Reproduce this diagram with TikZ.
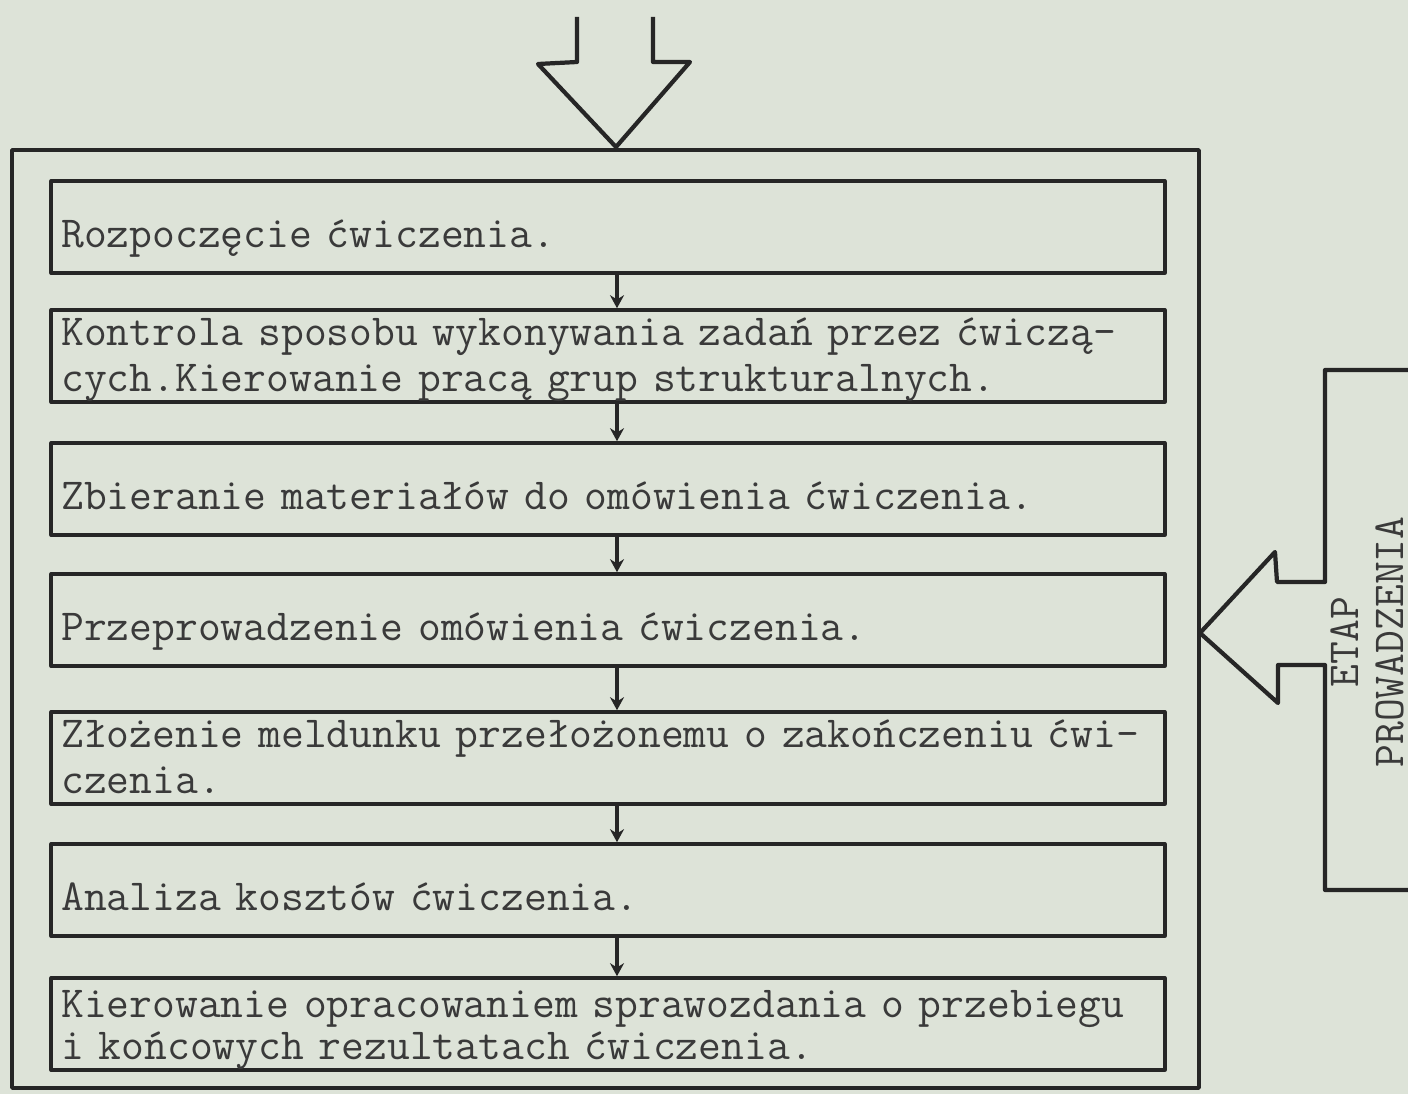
\documentclass[tikz,border=0pt]{standalone}
\usepackage{fontspec}
\usetikzlibrary{arrows.meta,calc}
\definecolor{Paper}{HTML}{DDE3D8}
\definecolor{Ink}{HTML}{262626}
\definecolor{Type}{HTML}{3A3A3A}

\begin{document}
\begin{tikzpicture}[x=0.01cm,y=-0.01cm,>=Stealth,line join=round,
    font=\ttfamily\fontsize{12.6}{12.8}\selectfont,
    stepbox/.style={draw=Ink,line width=1pt,text=Type,minimum width=11.13cm,minimum height=0.92cm,text width=10.93cm,align=left,inner sep=0pt},
    onebox/.style={stepbox,text height=0.5cm,text depth=0.1cm},
    twobox/.style={stepbox,text height=0.3cm,text depth=0.5cm},
    flow/.style={draw=Ink,line width=1.2pt,-{Stealth[length=1.3mm,width=1.4mm]}}]
        \fill[Paper] (0,0) rectangle (1408,1094);
        \useasboundingbox (0,0) rectangle (1408,1094);
        % entry arrow and frame
        \draw[Ink,line width=1.2pt] (577,17) -- (577,62) -- (538,64) -- (616,147) -- (690,62) -- (653,62) -- (653,17);
        \draw[Ink,line width=1pt] (12,150) rectangle (1199,1088);
        % steps
        \node[onebox] (s1) at (608,227) {Rozpoczęcie ćwiczenia.};
        \node[twobox] (s2) at (608,356) {Kontrola sposobu wykonywania zadań przez ćwiczą-\\cych.Kierowanie pracą grup strukturalnych.};
        \node[onebox] (s3) at (608,489) {Zbieranie materiałów do omówienia ćwiczenia.};
        \node[onebox] (s4) at (608,620) {Przeprowadzenie omówienia ćwiczenia.};
        \node[twobox] (s5) at (608,758) {Złożenie meldunku przełożonemu o zakończeniu ćwi-\\czenia.};
        \node[onebox] (s6) at (608,890) {Analiza kosztów ćwiczenia.};
        \node[twobox,text height=0.34cm,text depth=0.46cm] (s7) at (608,1024) {Kierowanie opracowaniem sprawozdania o przebiegu\\[-1pt]i końcowych rezultatach ćwiczenia.};
        \draw[flow] ($(s1.south)+(9,0)$) -- ($(s2.north)+(9,0)$);
        \draw[flow] ($(s2.south)+(9,0)$) -- ($(s3.north)+(9,0)$);
        \draw[flow] ($(s3.south)+(9,0)$) -- ($(s4.north)+(9,0)$);
        \draw[flow] ($(s4.south)+(9,0)$) -- ($(s5.north)+(9,0)$);
        \draw[flow] ($(s5.south)+(9,0)$) -- ($(s6.north)+(9,0)$);
        \draw[flow] ($(s6.south)+(9,0)$) -- ($(s7.north)+(9,0)$);
        % stage bracket
        \draw[Ink,line width=1.2pt] (1408,370) -- (1325,370) -- (1325,582) -- (1277,582) -- (1275,552) -- (1200,633) -- (1278,703) -- (1278,665) -- (1325,665) -- (1325,890) -- (1408,890);
        \node[rotate=90,align=center,text=Type] (stage) at (1367,642) {ETAP\\PROWADZENIA};
      \end{tikzpicture}
\end{document}
